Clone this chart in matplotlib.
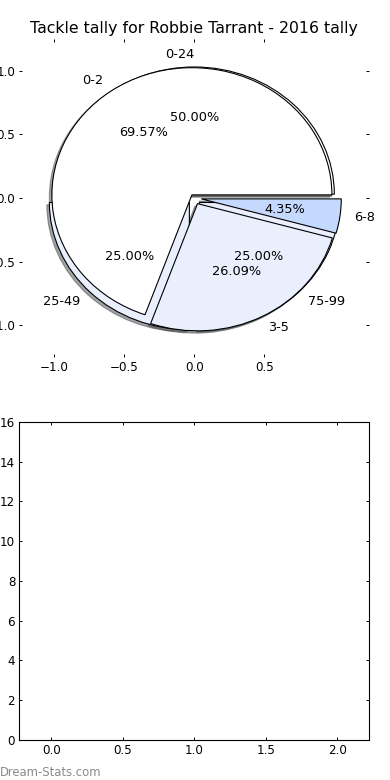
import matplotlib
matplotlib.use('Agg')
import matplotlib.pyplot as plt

# share of tackles by percentile band
band_labels = ['0-24', '25-49', '75-99']
band_values = [2, 1, 1]
band_explode = [0.03, 0.05, 0.05]

# games by tackle count
tackle_labels = ['0-2', '3-5', '6-8']
tackle_counts = [16, 6, 1]
tackle_explode = [0.03, 0.05, 0.05]
bar_x = [0, 1, 2]

light = '#e9effd'
blue = '#c5d8fd'
band_colors = ['white', light, light]
tackle_colors = ['white', light, blue]

fig = plt.figure(figsize=(3.9, 7.8), dpi=100)
ax1 = fig.add_axes([0.0495, 0.5423, 0.8975, 0.4077])
ax2 = fig.add_axes([0.0495, 0.0513, 0.8975, 0.408])

wp = {'edgecolor': 'black', 'linewidth': 0.8}
tp = {'fontsize': 9.3}
shad = {'ox': -0.013, 'oy': -0.013}
ax1.pie(band_values, labels=band_labels, explode=band_explode, colors=band_colors,
        autopct='%1.2f%%', shadow=shad, wedgeprops=wp, textprops=tp)
ax1.pie(tackle_counts, labels=tackle_labels, explode=tackle_explode, colors=tackle_colors,
        autopct='%1.2f%%', shadow=shad, wedgeprops=wp, textprops=tp)
ax1.set_aspect('auto')
ax1.set_frame_on(False)
ax1.set_xlim(-1.25, 1.25)
ax1.set_ylim(-1.25, 1.25)
ax1.set_xticks([-1.0, -0.5, 0.0, 0.5])
ax1.set_yticks([-1.0, -0.5, 0.0, 0.5, 1.0])
ax1.set_title('Tackle tally for Robbie Tarrant - 2016 tally', fontsize=11.3, pad=4)

# bars are there but drawn without colour
ax2.bar(bar_x, tackle_counts, width=0.45, color='none', edgecolor='none')
ax2.margins(0)
for s in ax2.spines.values():
    s.set_linewidth(0.8)

for ax in (ax1, ax2):
    ax.tick_params(direction='in', length=2.5, width=0.7, pad=3, labelsize=8.6,
                   top=True, right=True)

fig.text(0.0, 1 - 776 / 780, 'Dream-Stats.com', color='#8a8a8a', fontsize=8.4,
         ha='left', va='baseline')

fig.savefig('out.png', dpi=100)
